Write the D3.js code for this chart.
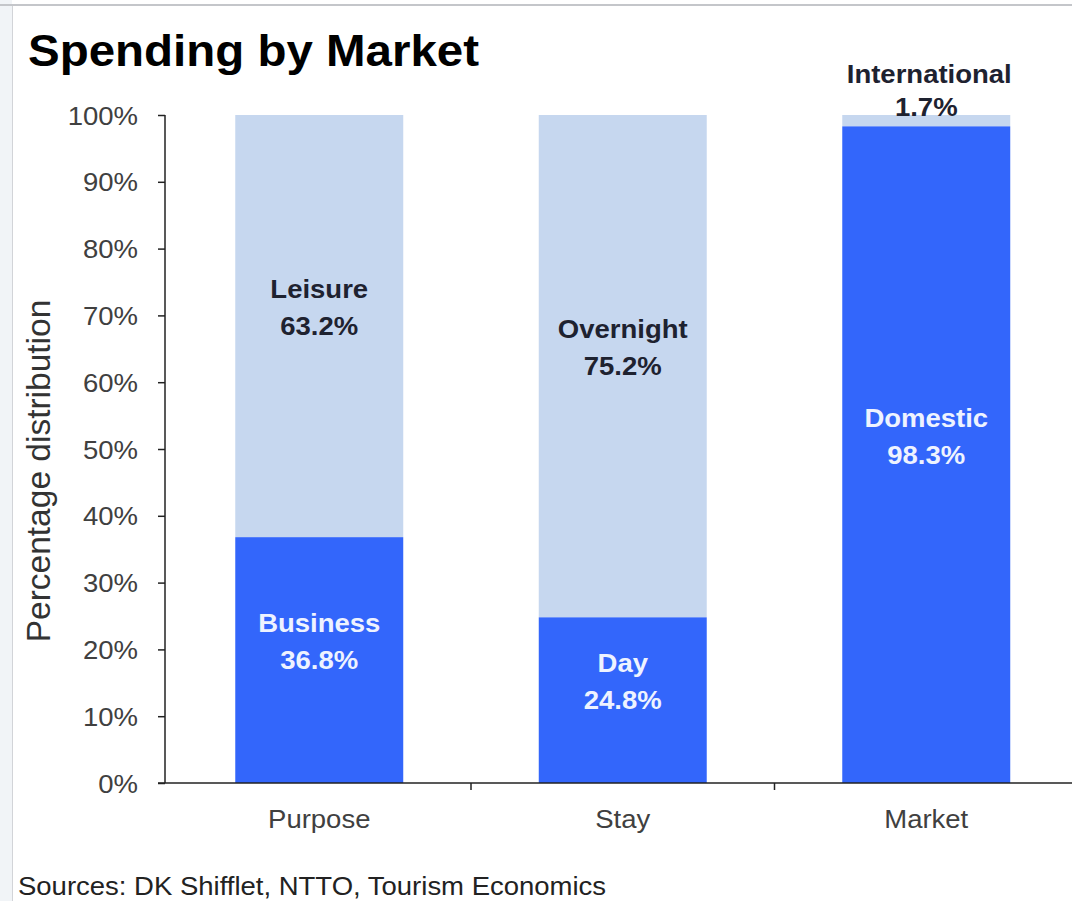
<!DOCTYPE html>
<html>
<head>
<meta charset="utf-8">
<script src="https://cdn.jsdelivr.net/npm/d3@7/dist/d3.min.js"></script>
<style>
  html, body { margin: 0; padding: 0; background: #ffffff; }
  svg { display: block; font-family: "Liberation Sans", Arial, sans-serif; }
</style>
</head>
<body>
<svg id="chart" width="1072" height="901"></svg>
<script>
// Spending split by trip purpose, length of stay and origin market
const categories   = ["Purpose", "Stay", "Market"];
const lowerNames   = ["Business", "Day", "Domestic"];
const lowerValues  = [36.8, 24.8, 98.3];
const upperNames   = ["Leisure", "Overnight", "International"];
const upperValues  = [63.2, 75.2, 1.7];
const yTickValues  = [0, 10, 20, 30, 40, 50, 60, 70, 80, 90, 100];

const DARK = "#3366fb";
const LIGHT = "#c6d7ef";
const STRETCH = 1.1; // horizontal widening of the text glyphs

const svg = d3.select("#chart");

// page frame
svg.append("rect").attr("x", 0).attr("y", 0).attr("width", 12).attr("height", 901).attr("fill", "#f1f4f7");
svg.append("line").attr("x1", 12.5).attr("x2", 12.5).attr("y1", 5).attr("y2", 901).attr("stroke", "#d2d4d8").attr("stroke-width", 1);
svg.append("line").attr("x1", 0).attr("x2", 1072).attr("y1", 5).attr("y2", 5).attr("stroke", "#c4c6ca").attr("stroke-width", 2);

const x = d3.scaleBand()
  .domain(categories)
  .range([167.5, 1078])
  .paddingInner(0.4465)
  .paddingOuter(0.22325);

const y = d3.scaleLinear().domain([0, 100]).range([783, 115]);

// helper: text widened horizontally around its anchor
function stretchedText(g, tx, ty, str, opts) {
  const t = g.append("text")
    .attr("transform", `translate(${tx},${ty}) scale(${opts.sx || STRETCH},1)`)
    .attr("text-anchor", opts.anchor || "middle")
    .attr("font-size", opts.size)
    .attr("font-weight", opts.weight || "normal")
    .attr("fill", opts.fill || "#333")
    .text(str);
  return t;
}

// title
stretchedText(svg, 28, 66, "Spending by Market", { anchor: "start", size: 45, weight: "bold", fill: "#000", sx: 1.055 });

// stacked bars
const bars = svg.append("g");
categories.forEach((c, i) => {
  const lo = lowerValues[i], hi = upperValues[i];
  bars.append("rect")
    .attr("x", x(c)).attr("width", x.bandwidth())
    .attr("y", y(lo + hi)).attr("height", y(lo) - y(lo + hi))
    .attr("fill", LIGHT);
  bars.append("rect")
    .attr("x", x(c)).attr("width", x.bandwidth())
    .attr("y", y(lo)).attr("height", y(0) - y(lo))
    .attr("fill", DARK);
});

// y axis
const yAxis = svg.append("g")
  .attr("transform", "translate(165,0)")
  .call(d3.axisLeft(y).tickValues(yTickValues).tickSize(7).tickPadding(20).tickFormat(d => d + "%"));
yAxis.select(".domain").attr("stroke", "#222").attr("stroke-width", 1.5).attr("d", "M0,115V783");
yAxis.selectAll(".tick line").attr("stroke", "#222").attr("stroke-width", 1.5);
yAxis.selectAll(".tick text")
  .attr("font-size", 25)
  .attr("fill", "#404040")
  .attr("font-family", "\"Liberation Sans\", Arial, sans-serif")
  .attr("dy", "0.36em")
  .each(function () {
    const t = d3.select(this);
    t.attr("x", -27 / STRETCH).attr("transform", `scale(${STRETCH},1)`);
  });

// x axis with separator ticks between categories
const xAxisG = svg.append("g");
xAxisG.append("line").attr("x1", 158).attr("x2", 1072).attr("y1", y(0)).attr("y2", y(0))
  .attr("stroke", "#222").attr("stroke-width", 1.5);
const step = x.step();
categories.forEach((c, i) => {
  const sx = x(c) + x.bandwidth() / 2 + step / 2;
  xAxisG.append("line").attr("x1", sx).attr("x2", sx).attr("y1", y(0)).attr("y2", y(0) + 7)
    .attr("stroke", "#222").attr("stroke-width", 1.5);
  stretchedText(xAxisG, x(c) + x.bandwidth() / 2, 828, c, { size: 25, fill: "#404040" });
});

// y axis title
svg.append("text")
  .attr("transform", "translate(50,471) rotate(-90)")
  .attr("text-anchor", "middle")
  .attr("font-size", 33.5)
  .attr("fill", "#333")
  .text("Percentage distribution");

// segment labels
const labels = svg.append("g");
categories.forEach((c, i) => {
  const cx = x(c) + x.bandwidth() / 2;
  const lo = lowerValues[i], hi = upperValues[i];
  // lower segment: value centred on the segment, name above it
  const loMid = y(lo / 2) + 9;
  stretchedText(labels, cx, loMid - 37, lowerNames[i], { size: 25, weight: "bold", fill: "#eef3ff" });
  stretchedText(labels, cx, loMid, lo.toFixed(1) + "%", { size: 25, weight: "bold", fill: "#eef3ff" });
  if (hi > 10) {
    const hiMid = y(lo + hi / 2) + 9;
    stretchedText(labels, cx, hiMid - 37, upperNames[i], { size: 25, weight: "bold", fill: "#1e2230" });
    stretchedText(labels, cx, hiMid, hi.toFixed(1) + "%", { size: 25, weight: "bold", fill: "#1e2230" });
  } else {
    // thin slice: label sits above the bar
    const top = y(lo + hi) + 1;
    stretchedText(labels, cx + 3, top - 33, upperNames[i], { size: 25, weight: "bold", fill: "#1e2230" });
    stretchedText(labels, cx, top, hi.toFixed(1) + "%", { size: 25, weight: "bold", fill: "#1e2230" });
  }
});

// source note
stretchedText(svg, 18, 895, "Sources: DK Shifflet, NTTO, Tourism Economics", { anchor: "start", size: 25, fill: "#222", sx: 1.1 });
</script>
</body>
</html>
